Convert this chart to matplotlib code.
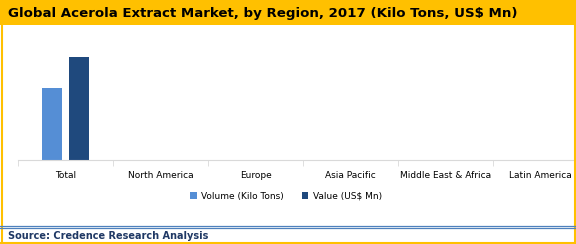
import numpy as np
import matplotlib.pyplot as plt
from matplotlib.patches import Rectangle
from matplotlib.lines import Line2D

# data
regions = ['Total', 'North America', 'Europe', 'Asia Pacific', 'Middle East & Africa', 'Latin America']
volume = [7.2, 0, 0, 0, 0, 0]
value = [10.3, 0, 0, 0, 0, 0]
series_names = ['Volume (Kilo Tons)', 'Value (US$ Mn)']

W, H = 576, 244
fig = plt.figure(figsize=(W / 100, H / 100), dpi=100)
fig.patch.set_facecolor('white')

# title bar
fig.add_artist(Rectangle((0, 1 - 25 / H), 1, 25 / H, transform=fig.transFigure,
                         facecolor='#FFC000', edgecolor='none'))
fig.text(8 / W, 1 - 13 / H, 'Global Acerola Extract Market, by Region, 2017 (Kilo Tons, US$ Mn)',
         fontsize=9.6, fontweight='bold', color='black', va='center', ha='left')

# orange border
for xs, ys in [([1.5 / W, 1.5 / W], [0, 1]), ([1 - 1.5 / W, 1 - 1.5 / W], [0, 1]),
               ([0, 1], [1.5 / H, 1.5 / H])]:
    fig.add_artist(Line2D(xs, ys, transform=fig.transFigure, color='#FFC000', lw=1.5))

# blue separator lines above source
for yp in [225.5, 227.5]:
    fig.add_artist(Line2D([0, 1], [1 - yp / H, 1 - yp / H], transform=fig.transFigure,
                          color='#4F81BD', lw=0.9))
fig.text(8 / W, 1 - 236 / H, 'Source: Credence Research Analysis', fontsize=7.0,
         fontweight='bold', color='#1F3864', va='center', ha='left')

# plot area
ax = fig.add_axes([18 / W, 1 - 160 / H, 570 / W, 130 / H])
x = np.arange(len(regions))
bw = 0.22
ax.bar(x - 0.032 - bw / 2, volume, bw, color='#558ED5', label=series_names[0])
ax.bar(x + 0.032 + bw / 2, value, bw, color='#1F497D', label=series_names[1])
ax.set_xlim(-0.5, len(regions) - 0.5)
ax.set_ylim(0, 13.0)
ax.set_yticks([])
ax.set_xticks(x)
ax.set_xticklabels(regions, fontsize=6.5, color='#000000')
ax.set_xticks(np.arange(len(regions) + 1) - 0.5, minor=True)
ax.tick_params(axis='x', which='major', length=0, pad=8)
ax.tick_params(axis='x', which='minor', length=4, color='#D9D9D9', direction='out')
for s in ['top', 'right', 'left']:
    ax.spines[s].set_visible(False)
ax.spines['bottom'].set_color('#D9D9D9')
ax.spines['bottom'].set_linewidth(0.8)

leg = fig.legend(loc='center', bbox_to_anchor=(286 / W, 1 - 196 / H), ncol=2, frameon=False,
                 fontsize=6.5, handlelength=0.7, handleheight=0.7, columnspacing=2.0,
                 handletextpad=0.5)

fig.savefig('out.png', dpi=100)
